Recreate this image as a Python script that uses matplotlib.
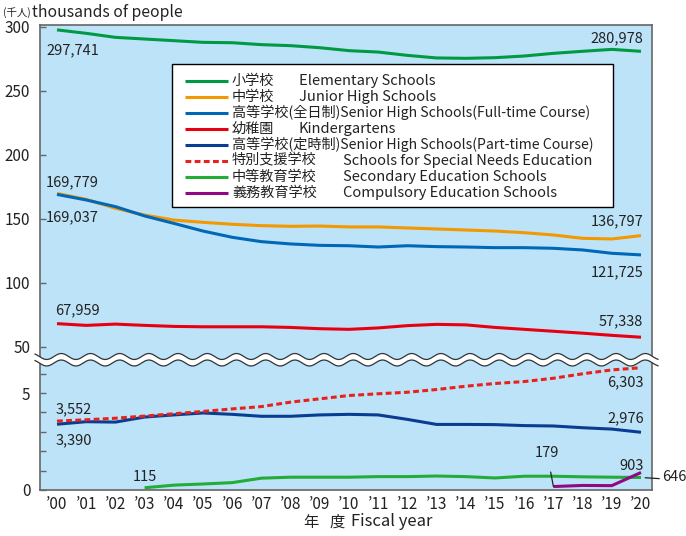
import matplotlib
matplotlib.use('Agg')
import matplotlib.pyplot as plt
import numpy as np
from matplotlib.lines import Line2D
from matplotlib.patches import Rectangle, Polygon

plt.rcParams['font.family'] = ['Noto Sans CJK JP', 'DejaVu Sans']

# ---------------- data (thousands of people) ----------------
years = list(range(2000, 2021))
year_labels = ['\u2019%02d' % (y % 100) for y in years]

elementary = [297.741, 295.05, 291.9, 290.6, 289.3, 288.0, 287.7, 286.2, 285.4, 283.8, 281.5,
              280.4, 277.8, 275.8, 275.5, 276.0, 277.3, 279.4, 281.0, 282.5, 280.978]
junior = [169.779, 165.2, 158.2, 152.9, 149.0, 147.2, 145.7, 144.6, 144.1, 144.3, 143.6,
          143.6, 142.8, 142.0, 141.2, 140.4, 139.1, 137.3, 134.7, 134.2, 136.797]
senior_ft = [169.037, 164.7, 159.5, 152.2, 146.4, 140.4, 135.5, 132.1, 130.3, 129.2, 128.9,
             127.9, 128.9, 128.2, 127.9, 127.4, 127.4, 126.9, 125.6, 123.0, 121.725]
kinder = [67.959, 66.6, 67.6, 66.6, 65.8, 65.5, 65.5, 65.5, 65.0, 64.0, 63.5,
          64.6, 66.4, 67.4, 67.0, 65.0, 63.5, 62.0, 60.5, 58.8, 57.338]
senior_pt = [3.390, 3.52, 3.50, 3.76, 3.87, 3.97, 3.90, 3.80, 3.80, 3.87, 3.90,
             3.87, 3.64, 3.38, 3.38, 3.37, 3.32, 3.30, 3.21, 3.14, 2.976]
special = [3.552, 3.62, 3.70, 3.81, 3.93, 4.05, 4.18, 4.30, 4.53, 4.70, 4.87,
           4.96, 5.04, 5.18, 5.35, 5.49, 5.59, 5.76, 5.99, 6.19, 6.303]
secondary = [None, None, None, 0.115, 0.25, 0.31, 0.38, 0.61, 0.66, 0.66, 0.66,
             0.69, 0.69, 0.72, 0.69, 0.62, 0.71, 0.71, 0.68, 0.66, 0.646]
compulsory = [None] * 17 + [0.179, 0.235, 0.225, 0.903]

names_jp = ['小学校', '中学校', '高等学校(全日制)Senior High Schools(Full-time Course)', '幼稚園',
            '高等学校(定時制)Senior High Schools(Part-time Course)', '特別支援学校', '中等教育学校', '義務教育学校']
names_en = ['Elementary Schools', 'Junior High Schools', '', 'Kindergartens', '',
            'Schools for Special Needs Education', 'Secondary Education Schools', 'Compulsory Education Schools']

C_ELEM = '#009944'
C_JUN = '#f39800'
C_SFT = '#0068b7'
C_KIN = '#e60012'
C_SPT = '#0a3d91'
C_SPE = '#e8211d'
C_SEC = '#22ac38'
C_COM = '#920783'
BG = '#bde3f8'
SPINE = '#666666'

W, H = 686, 536
fig = plt.figure(figsize=(W / 100, H / 100), dpi=100)


def fx(x):
    return x / W


def fy(y):
    return 1 - y / H


L, R = 40, 652
ax_top = fig.add_axes([fx(L), fy(358), fx(R) - fx(L), fy(25) - fy(358)])
ax_bot = fig.add_axes([fx(L), fy(490), fx(R) - fx(L), fy(358) - fy(490)])

xlim = (2000 - 17 / 29.2, 2020 + 11 / 29.2)
for ax in (ax_top, ax_bot):
    ax.set_facecolor(BG)
    ax.set_xlim(*xlim)
    for s in ax.spines.values():
        s.set_color(SPINE)
        s.set_linewidth(1.2)
    ax.tick_params(axis='y', direction='in', length=4, width=1, color=SPINE,
                   labelsize=11, pad=7, labelcolor='#222222')

ax_top.set_ylim(50 - (358 - 346.6) / 1.2785, 300 + 2 / 1.2785)
ax_bot.set_ylim(0, 132 / 19.4)
ax_top.spines['bottom'].set_visible(False)
ax_bot.spines['top'].set_visible(False)

ax_top.set_yticks([50, 100, 150, 200, 250, 300])
ax_top.set_xticks([])
ax_bot.set_yticks([0, 1, 2, 3, 4, 5, 6])
ax_bot.set_yticklabels(['0', '', '', '', '', '5', ''])
ax_bot.set_xticks(years)
ax_bot.set_xticklabels(year_labels)
ax_bot.tick_params(axis='x', length=0, labelsize=11, pad=4, labelcolor='#222222')

lw = 2.2
ax_top.plot(years, elementary, color=C_ELEM, lw=lw, solid_capstyle='butt')
ax_top.plot(years, junior, color=C_JUN, lw=lw, solid_capstyle='butt')
ax_top.plot(years, senior_ft, color=C_SFT, lw=lw, solid_capstyle='butt')
ax_top.plot(years, kinder, color=C_KIN, lw=lw, solid_capstyle='butt')


def arr(v):
    return np.array([np.nan if a is None else a for a in v], dtype=float)


ax_bot.plot(years, senior_pt, color=C_SPT, lw=lw, solid_capstyle='butt')
ax_bot.plot(years, special, color=C_SPE, lw=lw, dashes=(1.9, 1.1))
ax_bot.plot(years, arr(secondary), color=C_SEC, lw=lw, solid_capstyle='butt')
ax_bot.plot(years, arr(compulsory), color=C_COM, lw=lw, solid_capstyle='butt')

# ---------------- value labels ----------------
FS = 10.5
TC = '#222222'


def lab(x, y, s, ha='left', fs=FS):
    fig.text(fx(x), fy(y), s, ha=ha, va='center', fontsize=fs, color=TC)


lab(46, 50, '297,741')
lab(643, 38.5, '280,978', 'right')
lab(46, 182, '169,779')
lab(46, 217, '169,037')
lab(55, 310, '67,959')
lab(643, 221.7, '136,797', 'right')
lab(643, 272.3, '121,725', 'right')
lab(643, 321.7, '57,338', 'right')
lab(56, 409, '3,552')
lab(56, 440, '3,390')
lab(132.7, 476.7, '115')
lab(644, 382.7, '6,303', 'right')
lab(644, 418.3, '2,976', 'right')
lab(644, 466, '903', 'right')

ax_bot.annotate('179', xy=(2017, compulsory[17]), xytext=(547, H - 452.7),
                textcoords='figure pixels', ha='center', va='center', fontsize=FS, color=TC,
                arrowprops=dict(arrowstyle='-', color='#222222', lw=0.9,
                                shrinkA=7, shrinkB=0))
ax_bot.annotate('646', xy=(2020, secondary[-1]), xytext=(662, H - 476.7),
                textcoords='figure pixels', ha='left', va='center', fontsize=FS, color=TC,
                arrowprops=dict(arrowstyle='-', color='#222222', lw=0.9,
                                shrinkA=0, shrinkB=3, relpos=(0, 0.35)))

# ---------------- title / axis label ----------------
fig.text(fx(3), fy(13), '(千人)', fontsize=7.5, ha='left', va='center', color=TC)
fig.text(fx(32), fy(12.5), 'thousands of people', fontsize=11.3, ha='left', va='center', color=TC)
fig.text(fx(303), fy(522), '年', fontsize=11, ha='left', va='center', color=TC)
fig.text(fx(329), fy(522), '度', fontsize=11, ha='left', va='center', color=TC)
fig.text(fx(351), fy(522), 'Fiscal year', fontsize=12, ha='left', va='center', color=TC)

# ---------------- legend (manual) ----------------
fig.add_artist(Rectangle((fx(172), fy(207)), fx(613) - fx(172), fy(64) - fy(207),
                         transform=fig.transFigure, facecolor='white', edgecolor='black',
                         lw=1.0, zorder=5))
colors = [C_ELEM, C_JUN, C_SFT, C_KIN, C_SPT, C_SPE, C_SEC, C_COM]
en_x = [299, 299, None, 299, None, 343, 343, 343]
for i in range(8):
    yy = 80.7 + 16 * i
    kw = dict(color=colors[i], lw=2.2, transform=fig.transFigure, zorder=6)
    if i == 5:
        kw['dashes'] = (1.9, 1.1)
    else:
        kw['solid_capstyle'] = 'butt'
    fig.add_artist(Line2D([fx(185), fx(228)], [fy(yy), fy(yy)], **kw))
    fig.text(fx(232), fy(yy), names_jp[i], fontsize=10.2, ha='left', va='center',
             color=TC, zorder=7)
    if en_x[i] is not None:
        fig.text(fx(en_x[i]), fy(yy), names_en[i], fontsize=10.6, ha='left', va='center',
                 color=TC, zorder=7)

# ---------------- wavy axis break ----------------
xs = np.linspace(35, 658, 700)
wave = 3.0 * np.sin(2 * np.pi * (xs - 39.4) / 29.2)
top = 356.5 + wave
bot = 363.0 + wave
poly = np.concatenate([np.column_stack([fx(xs), fy(top)]),
                       np.column_stack([fx(xs[::-1]), fy(bot[::-1])])])
fig.add_artist(Polygon(poly, closed=True, transform=fig.transFigure, facecolor='white',
                       edgecolor='none', zorder=8))
fig.add_artist(Line2D(fx(xs), fy(top), color='#333333', lw=0.9, transform=fig.transFigure, zorder=9))
fig.add_artist(Line2D(fx(xs), fy(bot), color='#333333', lw=0.9, transform=fig.transFigure, zorder=9))

fig.savefig('out.png', dpi=100)
